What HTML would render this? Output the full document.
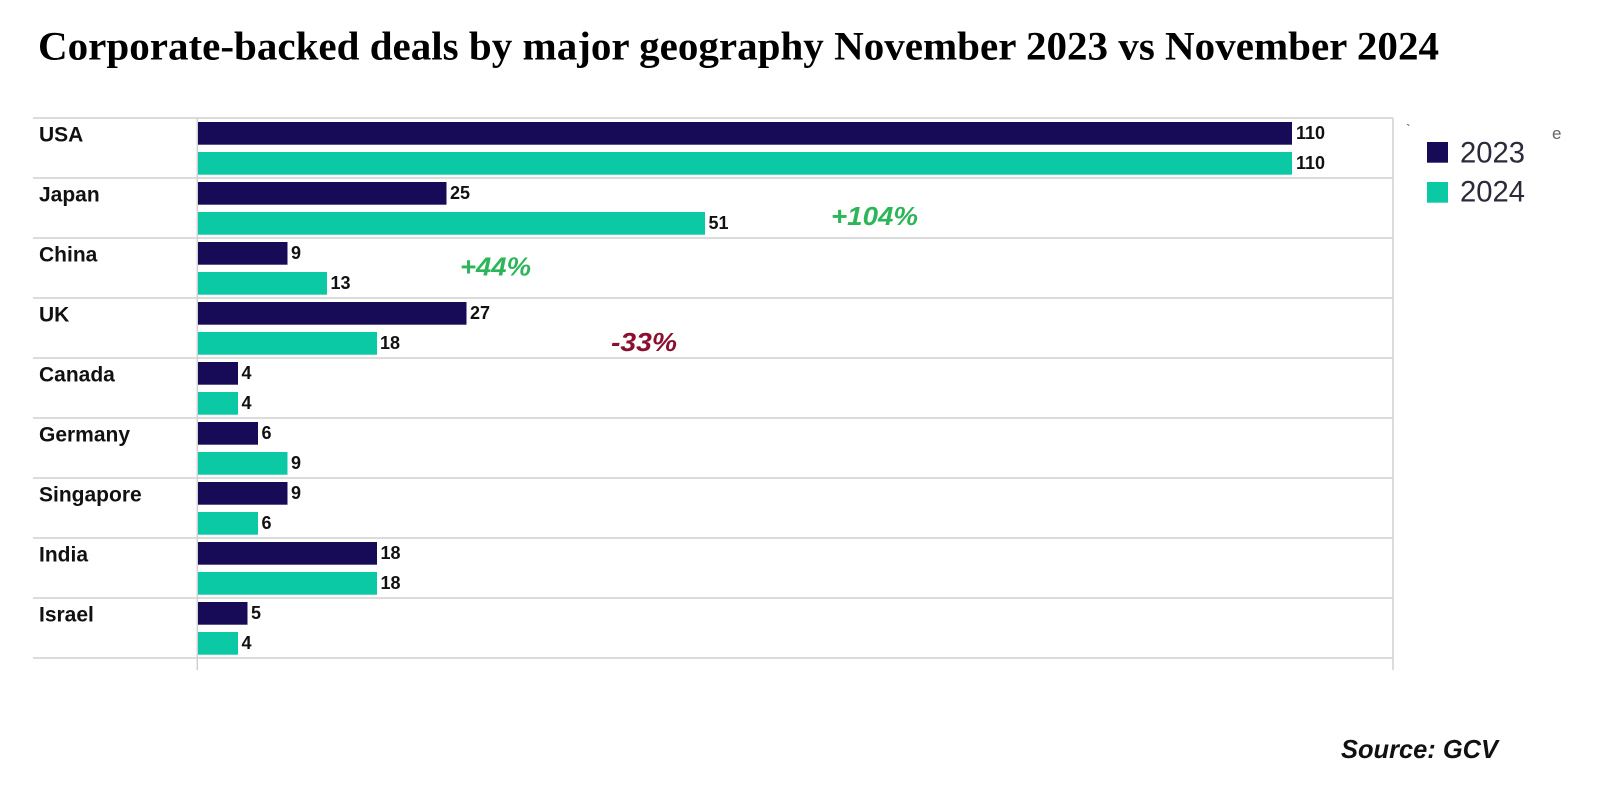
<!DOCTYPE html>
<html>
<head>
<meta charset="utf-8">
<style>
html,body{margin:0;padding:0;background:#fff;}
svg{display:block;}
</style>
</head>
<body>
<svg width="1599" height="810" viewBox="0 0 1599 810" xmlns="http://www.w3.org/2000/svg">
<rect x="0" y="0" width="1599" height="810" fill="#ffffff"/>
<text x="38" y="59.5" font-family="Liberation Serif, serif" font-weight="bold" font-size="40" fill="#000" textLength="1401" lengthAdjust="spacingAndGlyphs">Corporate-backed deals by major geography November 2023 vs November 2024</text>

<!-- grid -->
<g stroke="#d0d0d0" stroke-width="1.5">
<line x1="33" y1="118" x2="1393" y2="118"/>
<line x1="33" y1="178" x2="1393" y2="178"/>
<line x1="33" y1="238" x2="1393" y2="238"/>
<line x1="33" y1="298" x2="1393" y2="298"/>
<line x1="33" y1="358" x2="1393" y2="358"/>
<line x1="33" y1="418" x2="1393" y2="418"/>
<line x1="33" y1="478" x2="1393" y2="478"/>
<line x1="33" y1="538" x2="1393" y2="538"/>
<line x1="33" y1="598" x2="1393" y2="598"/>
<line x1="33" y1="658" x2="1393" y2="658"/>
<line x1="197.3" y1="118" x2="197.3" y2="670"/>
<line x1="1393" y1="118" x2="1393" y2="670"/>
</g>

<!-- category labels -->
<g font-family="Liberation Sans, sans-serif" font-weight="bold" font-size="21" fill="#111">
<text x="39" y="141.3">USA</text>
<text x="39" y="201.3">Japan</text>
<text x="39" y="261.3">China</text>
<text x="39" y="321.3">UK</text>
<text x="39" y="381.3">Canada</text>
<text x="39" y="441.3">Germany</text>
<text x="39" y="501.3">Singapore</text>
<text x="39" y="561.3">India</text>
<text x="39" y="621.3">Israel</text>
</g>

<!-- bars 2023 -->
<g fill="#170b58">
<rect x="198" y="122" width="1094" height="22.7"/>
<rect x="198" y="182" width="248.5" height="22.7"/>
<rect x="198" y="242" width="89.5" height="22.7"/>
<rect x="198" y="302" width="268.5" height="22.7"/>
<rect x="198" y="362" width="40" height="22.7"/>
<rect x="198" y="422" width="60" height="22.7"/>
<rect x="198" y="482" width="89.5" height="22.7"/>
<rect x="198" y="542" width="179" height="22.7"/>
<rect x="198" y="602" width="49.5" height="22.7"/>
</g>
<!-- bars 2024 -->
<g fill="#0bc9a5">
<rect x="198" y="152" width="1094" height="22.7"/>
<rect x="198" y="212" width="507" height="22.7"/>
<rect x="198" y="272" width="129" height="22.7"/>
<rect x="198" y="332" width="179" height="22.7"/>
<rect x="198" y="392" width="40" height="22.7"/>
<rect x="198" y="452" width="89.5" height="22.7"/>
<rect x="198" y="512" width="60" height="22.7"/>
<rect x="198" y="572" width="179" height="22.7"/>
<rect x="198" y="632" width="40" height="22.7"/>
</g>

<!-- value labels -->
<g font-family="Liberation Sans, sans-serif" font-weight="bold" font-size="18" fill="#111">
<text x="1296" y="139">110</text>
<text x="1296" y="169">110</text>
<text x="450" y="199">25</text>
<text x="708.5" y="229">51</text>
<text x="291" y="259">9</text>
<text x="330.5" y="289">13</text>
<text x="470" y="319">27</text>
<text x="380" y="349">18</text>
<text x="241.5" y="379">4</text>
<text x="241.5" y="409">4</text>
<text x="261.5" y="439">6</text>
<text x="291" y="469">9</text>
<text x="291" y="499">9</text>
<text x="261.5" y="529">6</text>
<text x="380.5" y="559">18</text>
<text x="380.5" y="589">18</text>
<text x="251" y="619">5</text>
<text x="241.5" y="649">4</text>
</g>

<!-- annotations -->
<g font-family="Liberation Sans, sans-serif" font-weight="bold" font-style="italic" font-size="26">
<text x="831" y="225" fill="#2db55a" textLength="87" lengthAdjust="spacingAndGlyphs">+104%</text>
<text x="460" y="275.5" fill="#2db55a" textLength="71" lengthAdjust="spacingAndGlyphs">+44%</text>
<text x="611" y="351" fill="#8b1030" textLength="66" lengthAdjust="spacingAndGlyphs">-33%</text>
</g>

<!-- legend -->
<rect x="1427" y="142" width="21" height="20.7" fill="#170b58"/>
<rect x="1427" y="182" width="21" height="20.7" fill="#0bc9a5"/>
<g font-family="Liberation Sans, sans-serif" font-size="30" fill="#2a2a3a">
<text x="1460" y="162.3" textLength="65" lengthAdjust="spacingAndGlyphs">2023</text>
<text x="1460" y="201.3" textLength="65" lengthAdjust="spacingAndGlyphs">2024</text>
</g>
<text x="1406" y="134" font-family="Liberation Sans, sans-serif" font-size="14" fill="#555">`</text>
<text x="1552" y="139" font-family="Liberation Sans, sans-serif" font-size="17" fill="#666">e</text>

<!-- source -->
<text x="1341" y="758" font-family="Liberation Sans, sans-serif" font-weight="bold" font-style="italic" font-size="26" fill="#111" textLength="157" lengthAdjust="spacingAndGlyphs">Source: GCV</text>
</svg>
</body>
</html>
